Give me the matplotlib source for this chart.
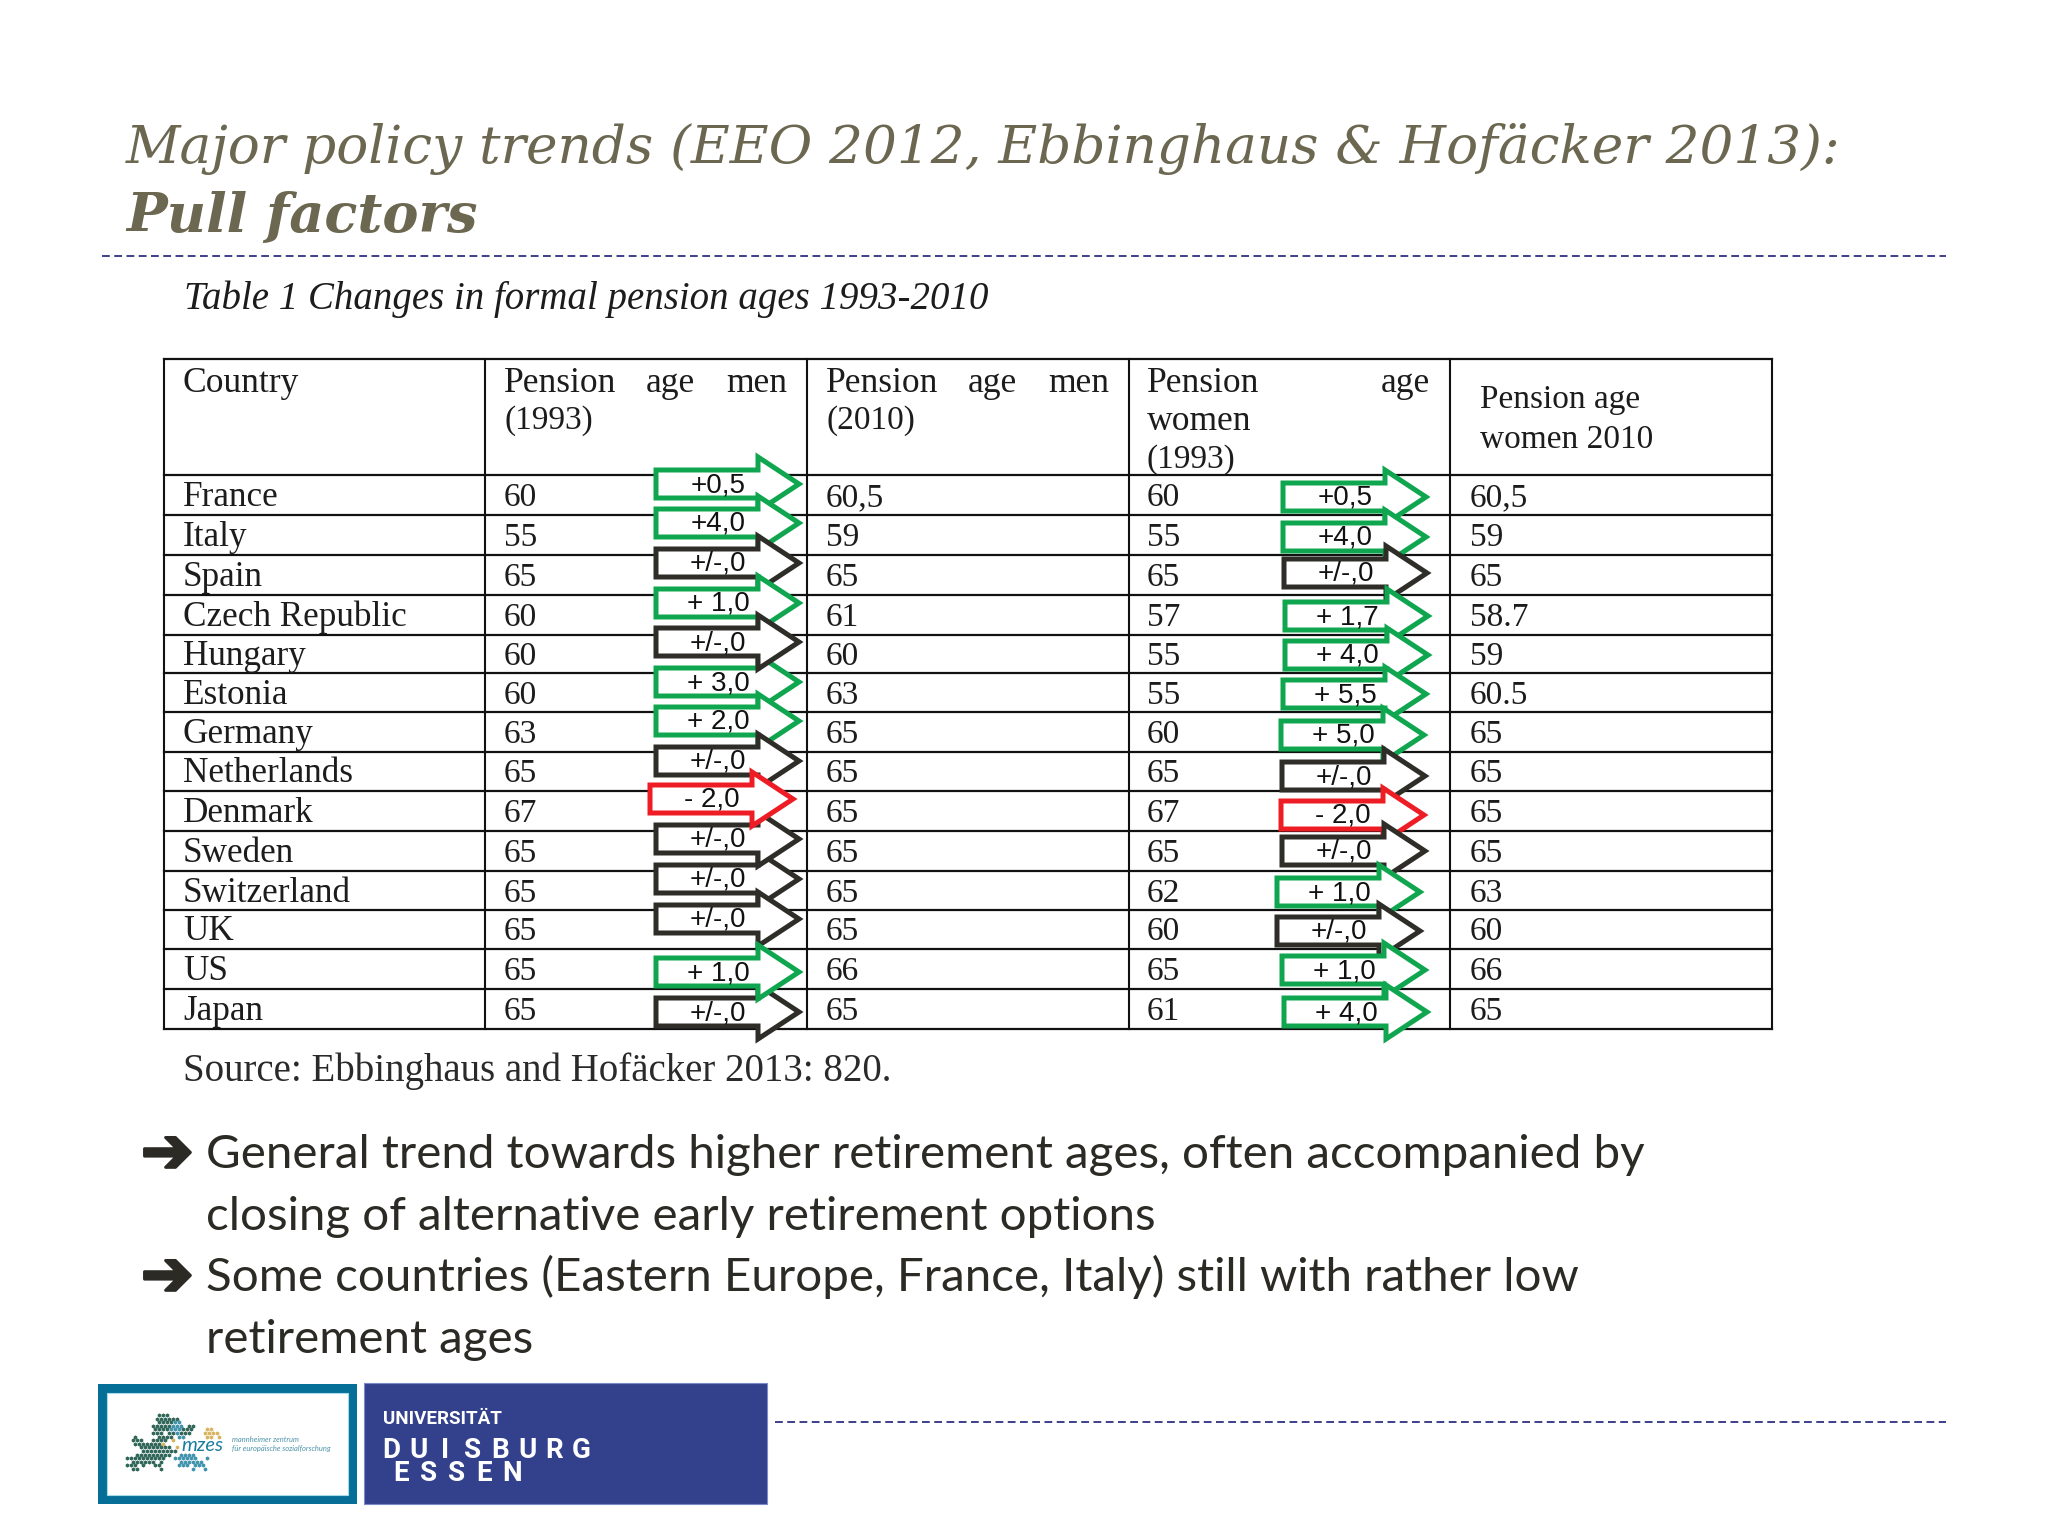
"""Slide with the table of formal pension ages 1993-2010 and change arrows.

Generates ``out.png``. The axes run in slide pixels, y pointing down.
"""

import matplotlib

matplotlib.use("Agg")
import matplotlib.patheffects as pe
import matplotlib.pyplot as plt
from matplotlib.patches import Polygon, Rectangle

COUNTRIES = [
    "France", "Italy", "Spain", "Czech Republic", "Hungary", "Estonia", "Germany",
    "Netherlands", "Denmark", "Sweden", "Switzerland", "UK", "US", "Japan",
]
MEN_1993 = ["60", "55", "65", "60", "60", "60", "63", "65", "67", "65", "65", "65", "65", "65"]
MEN_2010 = ["60,5", "59", "65", "61", "60", "63", "65", "65", "65", "65", "65", "65", "66", "65"]
WOMEN_1993 = ["60", "55", "65", "57", "55", "55", "60", "65", "67", "65", "62", "60", "65", "61"]
WOMEN_2010 = ["60,5", "59", "65", "58.7", "59", "60.5", "65", "65", "65", "65", "63", "60", "66", "65"]
MEN_CHANGE = ["+0,5", "+4,0", "+/-,0", "+ 1,0", "+/-,0", "+ 3,0", "+ 2,0",
              "+/-,0", "- 2,0", "+/-,0", "+/-,0", "+/-,0", "+ 1,0", "+/-,0"]
WOMEN_CHANGE = ["+0,5", "+4,0", "+/-,0", "+ 1,7", "+ 4,0", "+ 5,5", "+ 5,0",
                "+/-,0", "- 2,0", "+/-,0", "+ 1,0", "+/-,0", "+ 1,0", "+ 4,0"]

TITLE = "Major policy trends (EEO 2012, Ebbinghaus & Hofäcker 2013):"
SUBTITLE = "Pull factors"
CAPTION = "Table 1 Changes in formal pension ages 1993-2010"
SOURCE = "Source: Ebbinghaus and Hofäcker 2013: 820."
BODY = [
    "General trend towards higher retirement ages, often accompanied by",
    "closing of alternative early retirement options",
    "Some countries (Eastern Europe, France, Italy) still with rather low",
    "retirement ages",
]

# layout, in slide pixels
COL_X = [164, 485, 807, 1129, 1450, 1772]
ROW_Y = [359, 475, 515, 555, 595, 635, 673, 712, 752, 791, 831, 871, 910, 949, 989, 1029]
MEN_ARROW_Y = [484, 523, 563, 603, 642, 682, 721, 761, 799, 839, 879, 919, 972, 1012]
WOMEN_ARROW_Y = [497, 537, 573, 616, 655, 694, 735, 776, 815, 851, 892, 931, 970, 1012]
MEN_ARROW_X = [656, 656, 656, 656, 656, 656, 656, 656, 650, 656, 656, 656, 656, 656]
WOMEN_ARROW_X = [1283, 1283, 1284, 1285, 1285, 1283, 1281, 1282, 1281, 1282, 1277, 1277, 1282, 1284]
# stacking of the overlapping arrows, bottom first
MEN_ARROW_ORDER = [0, 1, 2, 3, 5, 4, 6, 7, 10, 9, 11, 8, 13, 12]
WOMEN_ARROW_ORDER = list(range(14))

# coarse shape of the dotted Europe map in the mzes logo
MZES_MAP = [
    "........ggg..............",
    ".......gggggg............",
    "........ggggbb...........",
    "......gggggbbb.gg........",
    ".......ggggbbbggg...yy...",
    "......ggg.ggbggg...yyyy..",
    "..g.....gggg.bb.....yy.y.",
    ".ggg..gggg.y.............",
    "..gggggggy...............",
    "...gggggggg.y............",
    "....ggggggggg............",
    "..ggggggggg..bbbb........",
    "gggggggggg..bbbbbb..b....",
    ".gggggg.g....bbbbbb......",
    "ggg.g..gg....bbb.bbb.....",
    ".gg.....g.......b..b.....",
]

OLIVE = "#6b6750"
INK = "#2b2a24"
TABLE_INK = "#1c1c1c"
GREEN = "#10a650"
RED = "#ee1c25"
DARK = "#2e2d28"
NAVY = "#3d3f8a"
UDE_BLUE = "#33408c"
MZES_BLUE = "#066f97"
SERIF = "Liberation Serif"


def arrow(ax, x, yc, color):
    """White block arrow with a coloured outline, it hides the table lines below."""
    pts = [
        (x, yc - 14), (x + 102, yc - 14), (x + 102, yc - 27), (x + 143, yc),
        (x + 102, yc + 27), (x + 102, yc + 14), (x, yc + 14),
    ]
    ax.add_patch(Polygon(pts, closed=True, facecolor="white", edgecolor=color, linewidth=3.6,
                         joinstyle="miter", zorder=3))


def change_color(label):
    if label.startswith("+/-"):
        return DARK
    return RED if label.startswith("-") else GREEN


def main():
    fig = plt.figure(figsize=(20.48, 15.36), dpi=100)
    ax = fig.add_axes([0, 0, 1, 1])
    ax.set_xlim(0, 2048)
    ax.set_ylim(1536, 0)
    ax.axis("off")

    # title block
    ax.text(126, 163, TITLE, family="DejaVu Serif", style="italic", fontsize=38.3, color=OLIVE)
    ax.text(126, 232, SUBTITLE, family="DejaVu Serif", style="italic", weight="bold",
            fontsize=39, color=OLIVE)
    ax.plot([102, 1946], [256, 256], color=NAVY, lw=1.4, ls=(0, (4, 2.3)))
    ax.plot([775, 1946], [1422, 1422], color=NAVY, lw=1.4, ls=(0, (4, 2.3)))

    ax.text(184, 309, CAPTION, family=SERIF, style="italic", fontsize=28, color=TABLE_INK)

    # table grid
    for y in ROW_Y:
        ax.plot([COL_X[0], COL_X[-1]], [y, y], color="#111111", lw=1.6, zorder=2)
    for x in COL_X:
        ax.plot([x, x], [ROW_Y[0], ROW_Y[-1]], color="#111111", lw=1.5, zorder=2)

    head = dict(family=SERIF, fontsize=25.6, color=TABLE_INK, zorder=5)
    num = dict(family=SERIF, fontsize=24, color=TABLE_INK, zorder=5)
    ax.text(183, 392, "Country", **head)
    for off, year in ((0, "(1993)"), (322, "(2010)")):
        ax.text(504 + off, 392, "Pension", **head)
        ax.text(646 + off, 392, "age", **head)
        ax.text(787 + off, 392, "men", ha="right", **head)
        ax.text(504 + off, 429, year, **num)
    ax.text(1147, 392, "Pension", **head)
    ax.text(1430, 392, "age", ha="right", **head)
    ax.text(1147, 430, "women", **head)
    ax.text(1147, 468, "(1993)", **num)
    ax.text(1480, 408, "Pension age", **num)
    ax.text(1480, 448, "women 2010", **num)

    for i, name in enumerate(COUNTRIES):
        y = (ROW_Y[i + 1] + ROW_Y[i + 2]) / 2 + 11
        ax.text(183, y, name, family=SERIF, fontsize=25.3, color=TABLE_INK, zorder=5)
        ax.text(504, y, MEN_1993[i], **num)
        ax.text(826, y, MEN_2010[i], **num)
        ax.text(1147, y, WOMEN_1993[i], **num)
        ax.text(1470, y, WOMEN_2010[i], **num)

    # change arrows with their labels
    for xs, ys, labels, order in ((MEN_ARROW_X, MEN_ARROW_Y, MEN_CHANGE, MEN_ARROW_ORDER),
                                  (WOMEN_ARROW_X, WOMEN_ARROW_Y, WOMEN_CHANGE, WOMEN_ARROW_ORDER)):
        for i in order:
            arrow(ax, xs[i], ys[i], change_color(labels[i]))
            ax.text(xs[i] + 62, ys[i] + 1, labels[i], family="Liberation Sans", fontsize=20,
                    color="#111111", ha="center", va="center", zorder=6)

    ax.text(183, 1081, SOURCE, family=SERIF, fontsize=28, color="#2a2a2a")

    # bullets
    for y in (1172, 1295):
        ax.text(141, y, "\u2794", family="DejaVu Sans", fontsize=45, color=INK,
                path_effects=[pe.withStroke(linewidth=2.2, foreground=INK)])
    for y, line in zip((1168, 1230, 1291, 1353), BODY):
        ax.text(206, y, line, family="Lato", fontsize=34.2, color=INK)

    # mzes logo
    ax.add_patch(Rectangle((98, 1384), 259, 120, facecolor=MZES_BLUE, edgecolor="none"))
    ax.add_patch(Rectangle((107, 1393), 241, 102, facecolor="white", edgecolor="#a8dbe8", lw=0.8))
    palette = {"g": "#2f6657", "b": "#3f93ad", "y": "#d8b45f"}
    for r, row in enumerate(MZES_MAP):
        for c, ch in enumerate(row):
            if ch != ".":
                ax.scatter(127 + c * 4 + (r % 2) * 2, 1415 + r * 3.6, s=9, marker="h",
                           color=palette[ch], linewidths=0, zorder=3)
    ax.text(181, 1451, "mzes", family="Lato", style="italic", fontsize=14.5, color="#1a7d9e", zorder=4)
    ax.text(232, 1442, "mannheimer zentrum", family="Lato", style="italic", fontsize=5.4, color="#4b93aa")
    ax.text(232, 1451, "für europäische sozialforschung", family="Lato", style="italic", fontsize=5.4,
            color="#4b93aa")

    # UDE logo
    ax.add_patch(Rectangle((364, 1383), 403, 121, facecolor=UDE_BLUE, edgecolor="#7f89c9", lw=0.8))
    white = dict(family="Roboto", weight="bold", color="white")
    ax.text(383, 1424, "UNIVERSITÄT", fontsize=13.5, **white)
    for k, ch in enumerate("DUISBURG"):
        ax.text(391 + k * 27.2, 1458, ch, fontsize=20, ha="center", **white)
    for k, ch in enumerate("ESSEN"):
        ax.text(401 + k * 27.8, 1481, ch, fontsize=20, ha="center", **white)

    fig.savefig("out.png", dpi=100, facecolor="white")
    plt.close(fig)


if __name__ == "__main__":
    main()
